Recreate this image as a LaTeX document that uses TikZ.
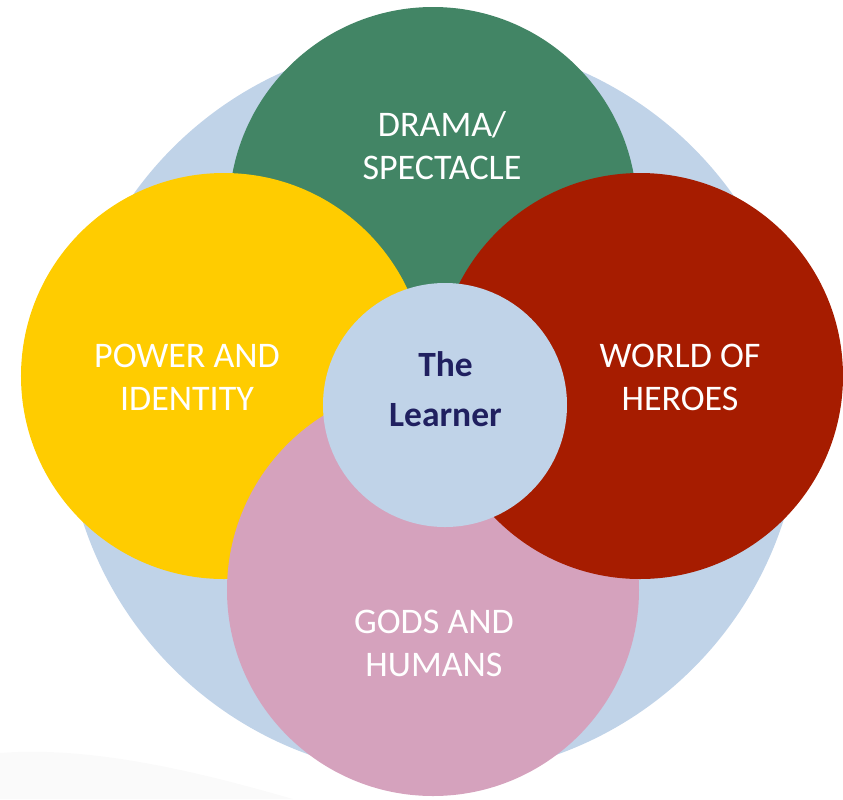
\documentclass[tikz,border=0pt]{standalone}
\usepackage{fontspec}
\setmainfont{Carlito}
\usepackage{xcolor}
\usepackage{tikz}
\usetikzlibrary{positioning}

\definecolor{paleblue}{RGB}{192,211,232}
\definecolor{dramagreen}{RGB}{66,133,101}
\definecolor{poweryellow}{RGB}{255,204,0}
\definecolor{heroesred}{RGB}{166,28,0}
\definecolor{godspink}{RGB}{213,162,189}
\definecolor{learnernavy}{RGB}{32,32,96}

\begin{document}
\begin{tikzpicture}[
  disc/.style={circle,inner sep=0pt,minimum size=#1},
  theme/.style={text=white,align=center,font=\fontsize{20.5}{24.5}\selectfont}]
\useasboundingbox (-8.66,-7.82) rectangle (8.2,8.16);
% faint swoosh in the lower left corner
\fill[black!2] (-8.66,-7.82) -- (-8.66,-6.90)
  .. controls (-6.8,-6.75) and (-4.6,-7.3) .. (-2.8,-7.82) -- cycle;
% the circles, back to front
\node[disc=14.72cm,fill=paleblue] (bg) at (0,0) {};
\node[disc=8.16cm,fill=dramagreen] (drama) at (0,3.94) {};
\node[disc=8.12cm,fill=poweryellow] (power) at (-4.18,0.64) {};
\node[disc=8.24cm,fill=godspink] (gods) at (0,-3.64) {};
\node[disc=8.12cm,fill=heroesred] (heroes) at (4.14,0.64) {};
\node[disc=4.88cm,fill=paleblue] (learner) at (0.24,0.06) {};
% labels
\node[theme] (dramalbl) at (0.18,5.25) {DRAMA/\\SPECTACLE};
\node[theme] (powerlbl) at (-4.92,0.62) {POWER AND\\IDENTITY};
\node[theme] (heroeslbl) at (4.94,0.62) {WORLD OF\\HEROES};
\node[theme] (godslbl) at (0.02,-4.70) {GODS AND\\HUMANS};
\node[align=center,text=learnernavy,font=\bfseries\fontsize{20.2}{28.5}\selectfont]
  (learnerlbl) at (0.25,0.38) {The\\Learner};
\end{tikzpicture}
\end{document}
